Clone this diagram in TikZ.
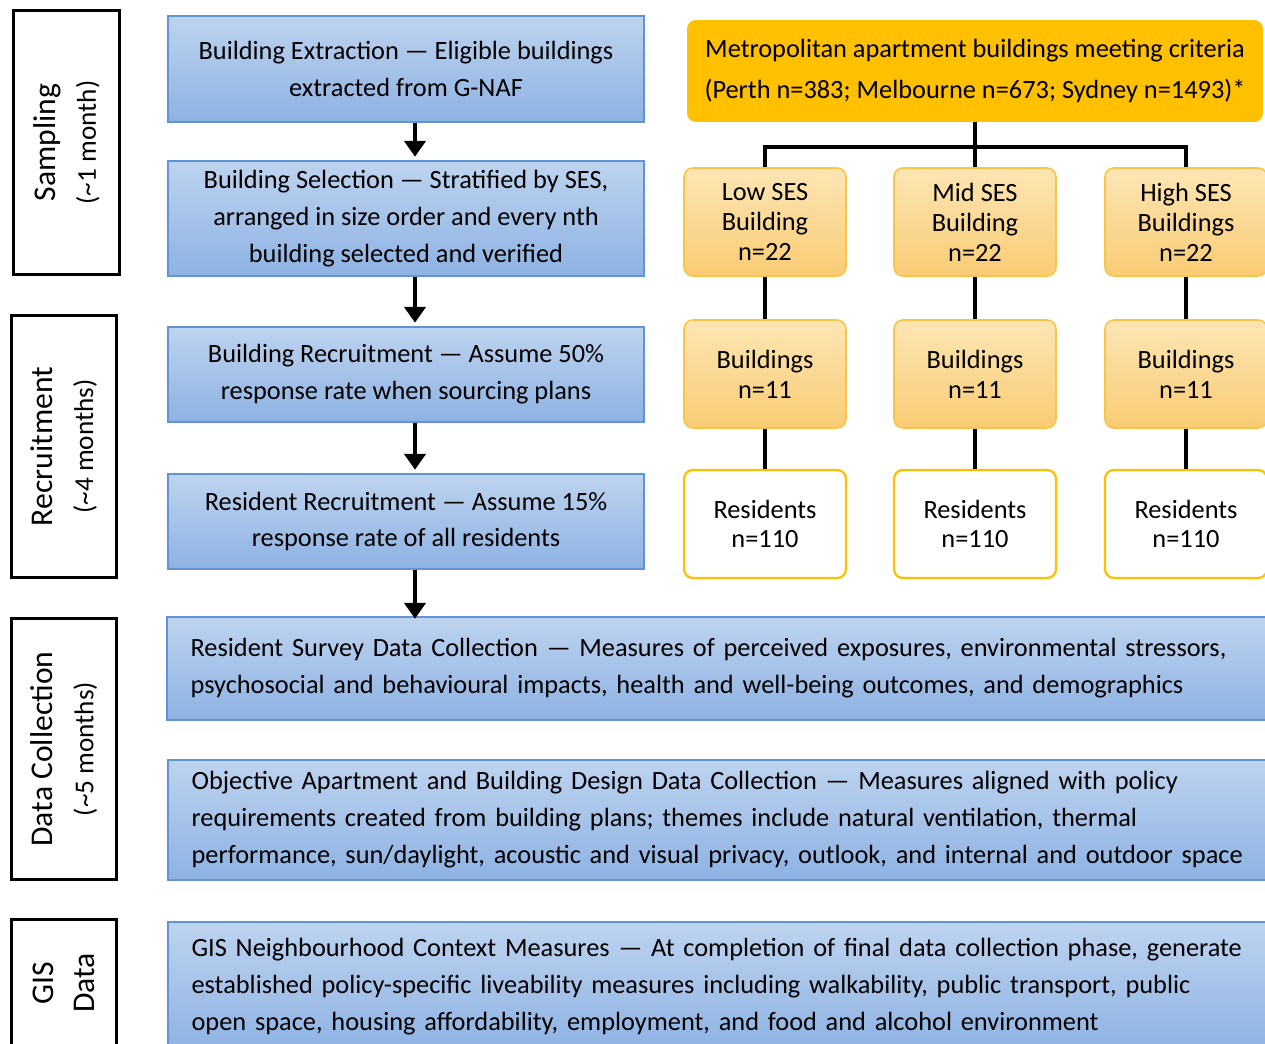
\documentclass[tikz,border=0pt]{standalone}
\usepackage{fontspec}
\setmainfont{Carlito}
\usetikzlibrary{arrows.meta, positioning, calc}
\definecolor{cBlueTop}{RGB}{190,211,239}
\definecolor{cBlueBot}{RGB}{141,178,227}
\definecolor{cBlueEdge}{RGB}{98,148,212}
\definecolor{cGold}{RGB}{255,192,0}
\definecolor{cSesTop}{RGB}{252,229,180}
\definecolor{cSesBot}{RGB}{249,204,116}
\definecolor{cSesEdge}{RGB}{248,198,68}
\tikzset{
	phase/.style    ={rectangle, draw=black, line width=1.7pt, rotate=90, align=center, inner sep=0pt, font=\fontsize{18}{23}\selectfont},
	stage/.style    ={rectangle, draw=cBlueEdge, line width=0.9pt, top color=cBlueTop, bottom color=cBlueBot, align=center, minimum width=9.52cm, font=\fontsize{15}{21}\selectfont},
	widestage/.style={stage, align=left, minimum width=22.04cm, text width=21.1cm},
	metabox/.style  ={rectangle, rounded corners=5pt, fill=cGold, align=center, minimum width=11.52cm, minimum height=2.04cm, font=\fontsize{15}{23}\selectfont},
	sesbox/.style   ={rectangle, rounded corners=5pt, draw=cSesEdge, line width=0.9pt, top color=cSesTop, bottom color=cSesBot, align=center, minimum width=3.24cm, minimum height=2.16cm, font=\fontsize{15}{17}\selectfont},
	resbox/.style   ={sesbox, draw=cGold, line width=1.3pt, top color=white, bottom color=white},
	flow/.style     ={-{Triangle[width=12pt, length=9pt]}, line width=2.2pt, shorten >=2pt},
	tree/.style     ={line width=2.2pt},
}
\begin{document}
\begin{tikzpicture}[x=0.02cm, y=-0.02cm]
	\clip (0,0) rectangle (1265,1044);
	\fill[white] (0,0) rectangle (1265,1044);
	% phases down the left side
	\node[phase, minimum width=5.3cm, minimum height=2.14cm] (sampling) at (66.5,142.5) {Sampling\\{\fontsize{15.5}{23}\selectfont(\textasciitilde1 month)}};
	\node[phase, minimum width=5.26cm, minimum height=2.12cm] (recruit) at (64,446.5) {Recruitment\\{\fontsize{15.5}{23}\selectfont(\textasciitilde4 months)}};
	\node[phase, minimum width=5.24cm, minimum height=2.12cm] (collect) at (64,749) {Data Collection\\{\fontsize{15.5}{23}\selectfont(\textasciitilde5 months)}};
	\node[phase, minimum width=2.54cm, minimum height=2.12cm] (gisphase) at (64,983) {GIS\\Data};
	% sampling and recruitment steps
	\coordinate (spine) at (415,0);
	\node[stage, minimum height=2.12cm] (extract) at (406,69) {Building Extraction — Eligible buildings\\extracted from G-NAF};
	\node[stage, minimum height=2.3cm] (select) at (406,218.5) {Building Selection — Stratified by SES,\\arranged in size order and every nth\\building selected and verified};
	\node[stage, minimum height=1.9cm] (bldrec) at (406,374.5) {Building Recruitment — Assume 50\%\\response rate when sourcing plans};
	\node[stage, minimum height=1.9cm] (resrec) at (406,521.5) {Resident Recruitment — Assume 15\%\\response rate of all residents};
	% data collection
	\node[widestage, minimum height=2.06cm] (survey) at (718,668.5) {Resident Survey Data Collection — Measures of perceived exposures, environmental stressors,\\psychosocial and behavioural impacts, health and well-being outcomes, and demographics};
	\node[widestage, minimum height=2.4cm] (objective) at (719,820) {Objective Apartment and Building Design Data Collection — Measures aligned with policy\\requirements created from building plans; themes include natural ventilation, thermal\\performance, sun/daylight, acoustic and visual privacy, outlook, and internal and outdoor space};
	\node[widestage, minimum height=2.6cm] (gis) at (719,987) {GIS Neighbourhood Context Measures — At completion of final data collection phase, generate\\established policy-specific liveability measures including walkability, public transport, public\\open space, housing affordability, employment, and food and alcohol environment};
	\draw[flow] (extract.south -| spine) -- (select.north -| spine);
	\draw[flow] (select.south -| spine) -- (bldrec.north -| spine);
	\draw[flow] (bldrec.south -| spine) -- (resrec.north -| spine);
	\draw[flow] (resrec.south -| spine) -- ($(survey.north -| spine)+(0,6)$);
	% sample tree by SES
	\node[metabox] (meta) at (975,71) {Metropolitan apartment buildings meeting criteria\\(Perth n=383; Melbourne n=673; Sydney n=1493)*};
	\coordinate (split) at (975,147);
	\draw[tree] (meta.south) -- (split);
	\foreach \nm/\x/\lbl in {low/765/{Low SES\\Building}, mid/975/{Mid SES\\Building}, high/1186/{High SES\\Buildings}} {
		\node[sesbox] (\nm-ses) at (\x,222) {\lbl\\n=22};
		\node[sesbox] (\nm-bld) at (\x,374) {Buildings\\n=11};
		\node[resbox] (\nm-res) at (\x,524) {Residents\\n=110};
		\draw[tree] (split) -| (\nm-ses.north);
		\draw[tree] (\nm-ses) -- (\nm-bld);
		\draw[tree] (\nm-bld) -- (\nm-res);
	}
\end{tikzpicture}
\end{document}
